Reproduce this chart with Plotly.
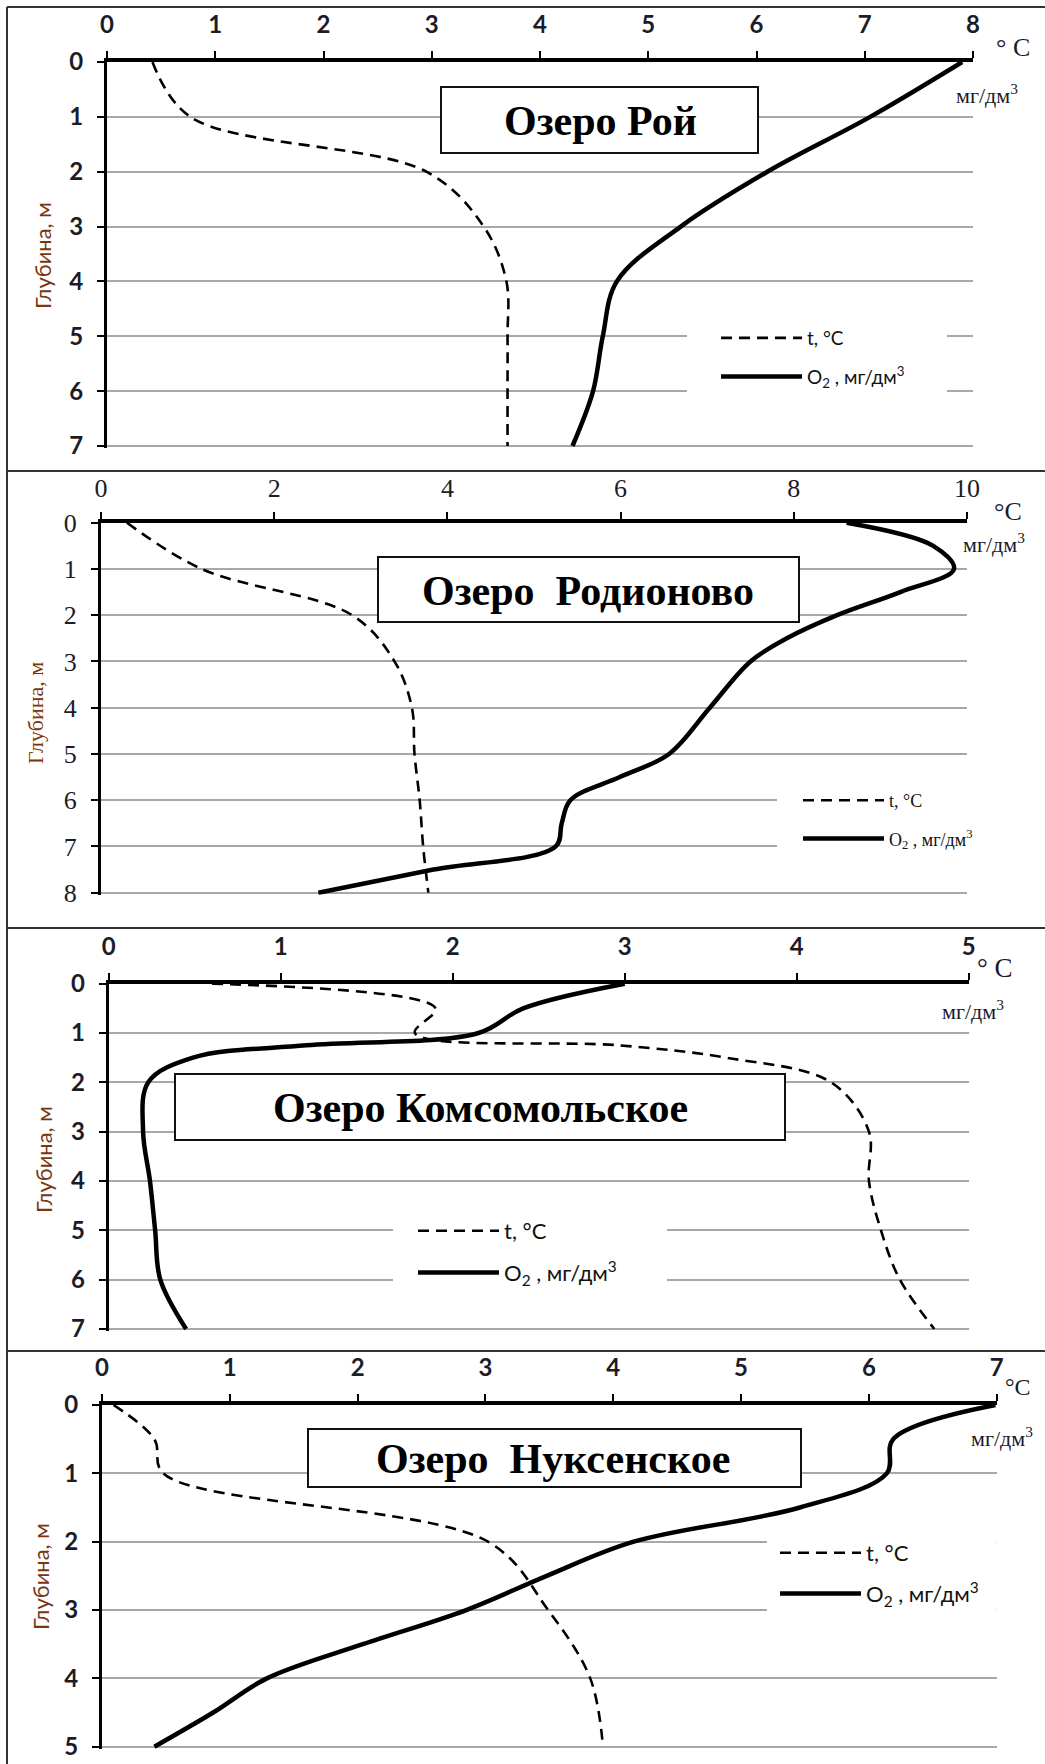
import plotly.graph_objects as go

W, H = 1045, 1764

# ---------------- data ----------------
# Озеро Рой
roi_depth = [0, 1, 2, 3, 4, 5, 6, 7]
roi_t = [0.42, 0.77, 2.95, 3.48, 3.69, 3.70, 3.70, 3.70]
roi_o2 = [7.90, 7.05, 6.10, 5.30, 4.71, 4.58, 4.49, 4.30]

# Озеро Родионово
rod_t_depth = [0, 1, 2, 3, 4, 5, 6, 7, 8]
rod_t = [0.30, 1.16, 2.90, 3.39, 3.59, 3.62, 3.68, 3.72, 3.78]
rod_o2_depth = [0, 0.5, 1, 1.5, 2, 2.5, 3, 4, 5, 5.5, 6, 6.5, 7, 7.5, 8]
rod_o2 = [8.61, 9.61, 9.85, 9.23, 8.50, 7.92, 7.50, 7.03, 6.56, 5.99, 5.42, 5.32, 5.25, 3.84, 2.51]

# Озеро Комсомольское
kom_t_depth = [0, 0.5, 1, 1.25, 1.5, 2, 3, 4, 5, 6, 7]
kom_t = [0.60, 1.90, 1.78, 2.97, 3.59, 4.20, 4.42, 4.42, 4.49, 4.60, 4.80]
kom_o2_depth = [0, 0.5, 1, 1.25, 1.5, 2, 3, 4, 5, 6, 7]
kom_o2 = [3.00, 2.41, 2.15, 1.15, 0.49, 0.23, 0.20, 0.24, 0.27, 0.30, 0.45]

# Озеро Нуксенское
nuk_t_depth = [0, 0.5, 1, 2, 3, 4, 5]
nuk_t = [0.09, 0.41, 0.48, 3.02, 3.49, 3.82, 3.92]
nuk_o2_depth = [0, 0.5, 1, 1.5, 2, 2.5, 3, 3.5, 4, 4.5, 5]
nuk_o2 = [6.99, 6.19, 6.14, 5.46, 4.16, 3.48, 2.85, 2.04, 1.29, 0.87, 0.41]

lake_titles = ["Озеро Рой", "Озеро\u00a0 Родионово", "Озеро Комсомольское", "Озеро\u00a0 Нуксенское"]
t_name = "t, °C"
o2_name = "O<sub>2</sub> , мг/дм<sup>3</sup>"
y_title = "Глубина, м"
deg_labels = ["° C", "°C", "° C", "°C"]
unit_label = "мг/дм<sup>3</sup>"

series = [
    (roi_depth, roi_t, roi_depth, roi_o2),
    (rod_t_depth, rod_t, rod_o2_depth, rod_o2),
    (kom_t_depth, kom_t, kom_o2_depth, kom_o2),
    (nuk_t_depth, nuk_t, nuk_o2_depth, nuk_o2),
]

# ---------------- layout geometry (pixels) ----------------
SANS = "Lato"
SERIF = "Liberation Serif"
panels = [
    dict(x0=107, x1=973, y0=62, yN=446, dmax=7, xmax=8, dtick=1, font=SANS, tsize=24, tw="bold", xso=8,
         box=(441, 87, 758, 153), title_c=(600, 121), tfs=42,
         deg=(1013, 47, 26), unit=(987, 94, 22),
         ytit=(43, 256, SANS, 22),
         leg=(716, 319, 19, SANS, 11), gap=(687, 318, 947, 402)),
    dict(x0=101, x1=967, y0=522.7, yN=892.7, dmax=8, xmax=10, dtick=2, font=SERIF, tsize=26, tw="normal", xso=4,
         box=(378, 557, 799, 622), title_c=(588, 591), tfs=42,
         deg=(1008, 512, 26), unit=(994, 543, 22),
         ytit=(35, 713, SERIF, 22),
         leg=(798, 782, 18, SERIF, 12), gap=(777, 785, 975, 860)),
    dict(x0=108.7, x1=968.7, y0=983.7, yN=1329, dmax=7, xmax=5, dtick=1, font=SANS, tsize=24, tw="bold", xso=8,
         box=(175, 1074, 785, 1140), title_c=(480, 1108), tfs=42,
         deg=(995, 968, 27), unit=(973, 1010, 22),
         ytit=(43, 1160, SANS, 22),
         leg=(413, 1210, 22, SANS, 10), gap=(393, 1212, 667, 1295)),
    dict(x0=102, x1=996.7, y0=1405, yN=1746.7, dmax=5, xmax=7, dtick=1, font=SANS, tsize=24, tw="bold", xso=8,
         box=(308, 1429, 801, 1487), title_c=(553, 1459), tfs=42,
         deg=(1018, 1387, 24), unit=(1002, 1437, 22),
         ytit=(40, 1577, SANS, 22),
         leg=(775, 1532, 22, SANS, 9), gap=(767, 1528, 1000, 1622)),
]

def px(x):
    return x / W

def py(y):
    return 1 - y / H

fig = go.Figure()
layout = dict(width=W, height=H, margin=dict(l=0, r=0, t=0, b=0, pad=0, autoexpand=False),
              paper_bgcolor="white", plot_bgcolor="rgba(0,0,0,0)",
              font=dict(family=SANS, color="#111"), showlegend=True)
shapes = []
annotations = []

TICKC = "#1c1c28"
BROWN = "#7a3510"

for i, (p, (td, tv, od, ov)) in enumerate(zip(panels, series)):
    n = i + 1
    xa = "xaxis" if n == 1 else f"xaxis{n}"
    ya = "yaxis" if n == 1 else f"yaxis{n}"
    xref = "x" if n == 1 else f"x{n}"
    yref = "y" if n == 1 else f"y{n}"
    lg = "legend" if n == 1 else f"legend{n}"

    ext = 2.0
    ymax = p["dmax"] + ext * p["dmax"] / (p["yN"] - p["y0"])
    tfont = dict(family=p["font"], size=p["tsize"], color=TICKC, weight=p["tw"])
    layout[xa] = dict(domain=[px(p["x0"]), px(p["x1"])], anchor=yref, side="top",
                      range=[0, p["xmax"]], dtick=p["dtick"], tick0=0,
                      showgrid=False, zeroline=False, showline=True, automargin=False,
                      linecolor="black", linewidth=4, ticks="outside", ticklen=7,
                      tickwidth=2, tickcolor="black", tickfont=tfont,
                      ticklabelstandoff=p["xso"], fixedrange=True)
    layout[ya] = dict(domain=[py(p["yN"] + ext), py(p["y0"])], anchor=xref,
                      range=[ymax, 0], dtick=1, tick0=0, automargin=False,
                      showgrid=True, gridcolor="#a8a8a8", gridwidth=1.5,
                      zeroline=False, showline=True, linecolor="black", linewidth=3,
                      ticks="outside", ticklen=7, tickwidth=2, tickcolor="black",
                      tickfont=tfont, ticklabelstandoff=9, fixedrange=True)

    lx, ly, lfs, lfont, lgap = p["leg"]
    layout[lg] = dict(x=px(lx), y=py(ly), xanchor="left", yanchor="top",
                      bgcolor="rgba(0,0,0,0)", borderwidth=0, itemwidth=81,
                      tracegroupgap=lgap, traceorder="grouped",
                      font=dict(family=lfont, size=lfs, color="#111"))

    fig.add_trace(go.Scatter(x=tv, y=td, mode="lines", name=t_name,
                             line=dict(color="black", width=2.6, dash="11px,7px", shape="spline", smoothing=1.0),
                             xaxis=xref, yaxis=yref, legend=lg, legendgroup=f"t{n}", hoverinfo="skip"))
    fig.add_trace(go.Scatter(x=ov, y=od, mode="lines", name=o2_name,
                             line=dict(color="black", width=4.5, shape="spline", smoothing=1.0),
                             xaxis=xref, yaxis=yref, legend=lg, legendgroup=f"o{n}", hoverinfo="skip"))

    # white gap in the grid lines behind the legend (between grid and traces)
    gx0, gy0, gx1, gy1 = p["gap"]
    sx = p["xmax"] / (p["x1"] - p["x0"])
    sy = p["dmax"] / (p["yN"] - p["y0"])
    shapes.append(dict(type="rect", xref=xref, yref=yref, layer="between",
                       x0=(gx0 - p["x0"]) * sx, x1=(gx1 - p["x0"]) * sx,
                       y0=(gy0 - p["y0"]) * sy, y1=(gy1 - p["y0"]) * sy,
                       fillcolor="white", line=dict(width=0)))

    # title box
    bx0, by0, bx1, by1 = p["box"]
    shapes.append(dict(type="rect", xref="paper", yref="paper", layer="above",
                       x0=px(bx0), x1=px(bx1), y0=py(by1), y1=py(by0),
                       fillcolor="white", line=dict(color="#111", width=2)))
    cx, cy = p["title_c"]
    annotations.append(dict(text=f"<b>{lake_titles[i]}</b>", x=px(cx), y=py(cy), xref="paper", yref="paper",
                            showarrow=False, xanchor="center", yanchor="middle",
                            font=dict(family=SERIF, size=p["tfs"], color="black")))

    # units
    dx, dy, dfs = p["deg"]
    annotations.append(dict(text=deg_labels[i], x=px(dx), y=py(dy), xref="paper", yref="paper",
                            showarrow=False, xanchor="center", yanchor="middle",
                            font=dict(family=SERIF, size=dfs, color="#1a1a2a")))
    ux, uy, ufs = p["unit"]
    annotations.append(dict(text=unit_label, x=px(ux), y=py(uy), xref="paper", yref="paper",
                            showarrow=False, xanchor="center", yanchor="middle",
                            font=dict(family=SERIF, size=ufs, color="#1a1a2a")))

    # y title
    tx, ty, tf, tfsz = p["ytit"]
    annotations.append(dict(text=y_title, x=px(tx), y=py(ty), xref="paper", yref="paper",
                            showarrow=False, xanchor="center", yanchor="middle", textangle=-90,
                            font=dict(family=tf, size=tfsz, color=BROWN)))

# panel frame lines
FR = "#333"
for yy in [7, 471, 928, 1351]:
    shapes.append(dict(type="line", xref="paper", yref="paper", x0=px(7), x1=1.0,
                       y0=py(yy), y1=py(yy), line=dict(color=FR, width=2)))
shapes.append(dict(type="line", xref="paper", yref="paper", x0=px(7), x1=px(7),
                   y0=0, y1=py(7), line=dict(color=FR, width=2)))

layout["shapes"] = shapes
layout["annotations"] = annotations
fig.update_layout(**layout)

fig.write_html("out.html")
